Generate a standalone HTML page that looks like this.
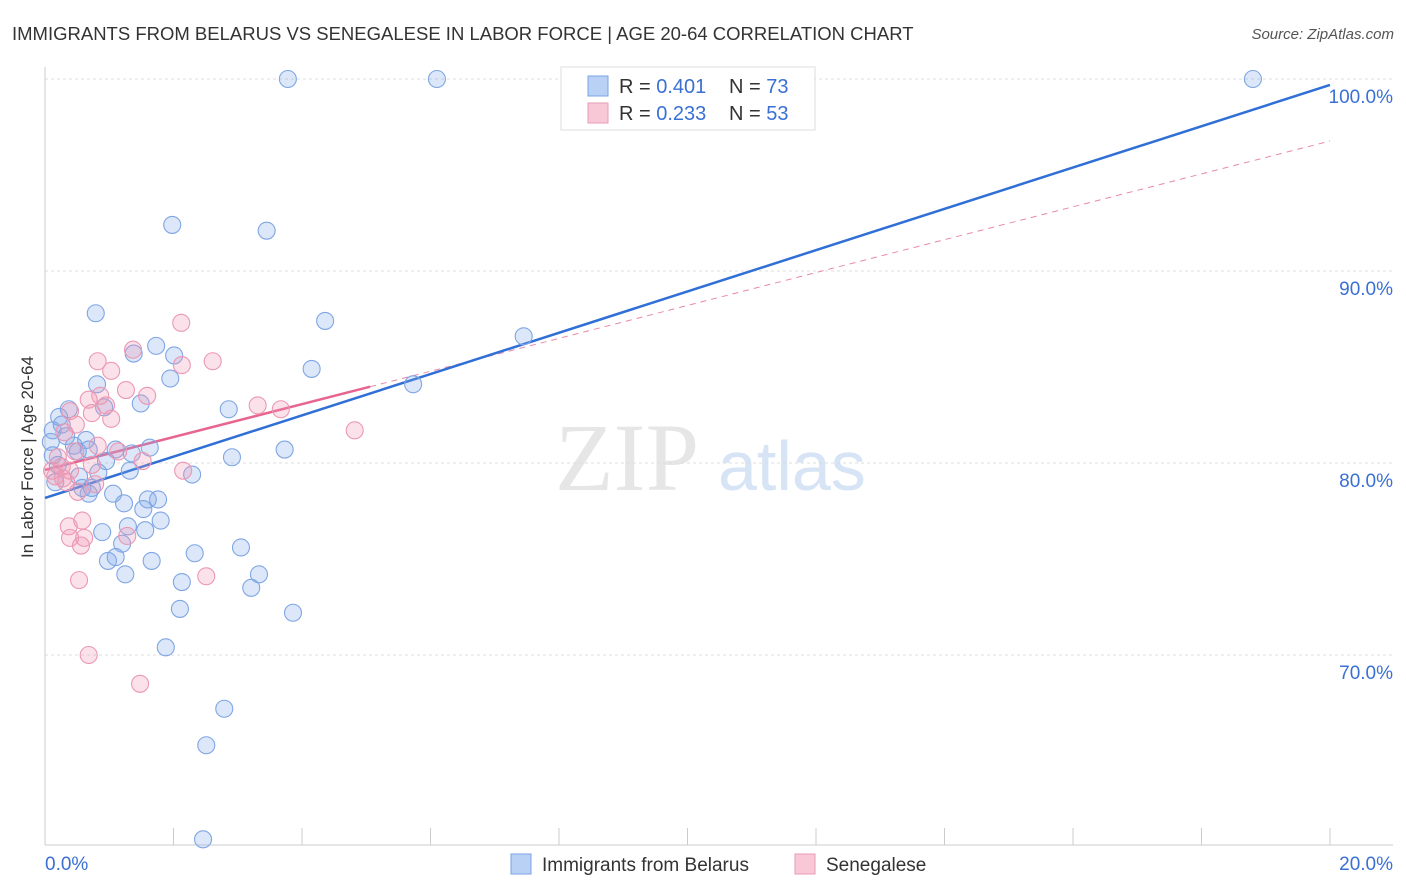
<!DOCTYPE html>
<html><head><meta charset="utf-8"><style>
body{margin:0;background:#fff;font-family:"Liberation Sans",sans-serif;}
svg{display:block}
</style></head><body>
<svg id="chart" width="1406" height="892">
<text x="12" y="40" font-size="18.5" fill="#333">IMMIGRANTS FROM BELARUS VS SENEGALESE IN LABOR FORCE | AGE 20-64 CORRELATION CHART</text>
<text x="1394" y="39" font-size="15" fill="#555" font-style="italic" text-anchor="end">Source: ZipAtlas.com</text>
<text transform="translate(33,457) rotate(-90)" font-size="17" fill="#333" text-anchor="middle">In Labor Force | Age 20-64</text>
<g>
<text x="555" y="490" font-size="96" fill="#e6e6e6" font-family="Liberation Serif,serif">ZIP</text>
<text x="718" y="490" font-size="70" fill="#d7e4f5">atlas</text>
</g>
<g id="grid"></g><g id="axes"></g><g id="lines"></g><g id="points"></g>
<g>
<rect x="561" y="67" width="254" height="63" fill="#fff" stroke="#ddd"/>
<rect x="588" y="76" width="20" height="20" fill="#b9d1f4" stroke="#7aa3e6"/>
<rect x="588" y="103" width="20" height="20" fill="#f8c8d7" stroke="#e99bb5"/>
<text x="619" y="93" font-size="20" fill="#333">R = <tspan fill="#3a70d4">0.401</tspan></text>
<text x="729" y="93" font-size="20" fill="#333">N = <tspan fill="#3a70d4">73</tspan></text>
<text x="619" y="120" font-size="20" fill="#333">R = <tspan fill="#3a70d4">0.233</tspan></text>
<text x="729" y="120" font-size="20" fill="#333">N = <tspan fill="#3a70d4">53</tspan></text>
</g>
<g>
<rect x="511" y="854" width="20" height="20" fill="#b9d1f4" stroke="#7aa3e6"/>
<text x="542" y="871" font-size="19" fill="#333">Immigrants from Belarus</text>
<rect x="795" y="854" width="20" height="20" fill="#f8c8d7" stroke="#e99bb5"/>
<text x="826" y="871" font-size="19" fill="#333">Senegalese</text>
</g>
</svg>
<script>
const yTicks=[100,90,80,70];
const xTickLabels=["0.0%","20.0%"];
const blueX=[3.78,6.10,18.80,1.98,3.45,0.79,4.36,7.45,1.73,1.38,2.01,4.15,1.95,0.81,5.73,1.49,2.86,0.37,0.92,0.22,0.26,0.12,0.64,0.33,0.45,0.09,1.10,1.63,3.73,0.68,1.35,0.51,2.91,0.95,0.12,0.20,1.32,2.29,0.83,0.53,0.16,0.73,0.58,0.68,1.06,1.60,1.76,1.23,1.53,1.80,1.29,1.56,0.89,1.20,3.05,2.33,1.10,0.98,1.66,1.25,3.33,2.13,3.21,2.10,3.86,1.88,2.79,2.51,2.46];
const blueY=[100.0,100.0,100.0,92.4,92.1,87.8,87.4,86.6,86.1,85.7,85.6,84.9,84.4,84.1,84.1,83.1,82.8,82.8,82.9,82.4,82.0,81.7,81.2,81.4,80.9,81.1,80.7,80.8,80.7,80.7,80.5,80.6,80.3,80.1,80.4,79.9,79.6,79.4,79.5,79.3,79.0,78.7,78.7,78.4,78.4,78.1,78.1,77.9,77.6,77.0,76.7,76.5,76.4,75.8,75.6,75.3,75.1,74.9,74.9,74.2,74.2,73.8,73.5,72.4,72.2,70.4,67.2,65.3,60.4];
const pinkX=[2.12,1.37,0.82,2.61,2.13,1.03,1.26,1.59,0.86,0.68,3.31,3.67,0.95,0.39,0.73,1.03,0.48,0.30,4.82,0.82,0.47,1.14,0.20,1.52,0.26,0.39,0.11,0.73,2.15,0.16,0.28,0.33,0.51,0.78,0.58,0.37,1.28,0.39,0.61,0.56,2.51,0.53,0.68,1.48];
const pinkY=[87.3,85.9,85.3,85.3,85.1,84.8,83.8,83.5,83.5,83.3,83.0,82.8,83.0,82.7,82.6,82.3,82.0,81.6,81.7,80.9,80.6,80.6,80.3,80.1,79.8,79.6,79.6,79.9,79.6,79.3,79.2,79.0,78.5,78.9,77.0,76.7,76.2,76.1,76.1,75.7,74.1,73.9,70.0,68.5];
const blueTrend=[78.18,99.69];
const pinkTrend=[79.64,96.77];
const pinkSolidEnd=5.06;
const NS="http://www.w3.org/2000/svg";
const sx=v=>45+v/20*1285, sy=v=>463-(v-80)/10*192;
function mk(p,tag,a){const e=document.createElementNS(NS,tag);for(const k in a)e.setAttribute(k,a[k]);p.appendChild(e);return e;}
const grid=document.getElementById('grid'),axes=document.getElementById('axes'),lines=document.getElementById('lines'),pts=document.getElementById('points');
yTicks.forEach(t=>{
 const l=mk(grid,'line',{x1:45,x2:1393,y1:sy(t),y2:sy(t),stroke:'#ddd','stroke-dasharray':'3,3'});
 
 
 const tx=mk(grid,'text',{x:1393,y:sy(t)+24,'font-size':19,fill:'#3a70d4','text-anchor':'end'});
 tx.textContent=t.toFixed(1)+'%';
 
 
});
const ax=mk(axes,'line',{x1:45,x2:45,y1:67,y2:845,stroke:'#ccc'});


const bx=mk(axes,'line',{x1:45,x2:1393,y1:845,y2:845,stroke:'#ccc'});


for(let i=0;i<=10;i++){
 const t=mk(axes,'line',{x1:sx(i*2),x2:sx(i*2),y1:828,y2:845,stroke:'#ccc'});
 
 
}
[[0,'start'],[20,'end']].forEach((d,i)=>{
 const t=mk(axes,'text',{x:sx(d[0])+(i?63:0),y:870,'font-size':19,fill:'#3a70d4','text-anchor':d[1]});
 t.textContent=xTickLabels[i];
 
 
});
blueX.forEach((x,i)=>{
 const c=mk(pts,'circle',{cx:sx(x),cy:sy(blueY[i]),r:8.5,fill:'rgba(130,170,235,0.28)',stroke:'#7fa6e4','stroke-width':1.1});
 
 
});
pinkX.forEach((x,i)=>{
 const c=mk(pts,'circle',{cx:sx(x),cy:sy(pinkY[i]),r:8.5,fill:'rgba(240,150,180,0.28)',stroke:'#eb98b3','stroke-width':1.1});
 
 
});
const pAt=x=>pinkTrend[0]+(pinkTrend[1]-pinkTrend[0])*x/20;
const pd=mk(lines,'line',{x1:sx(pinkSolidEnd),y1:sy(pAt(pinkSolidEnd)),x2:sx(20),y2:sy(pinkTrend[1]),stroke:'#e88aa8','stroke-width':1,'stroke-dasharray':'6,5'});


const bl=mk(lines,'line',{x1:sx(0),y1:sy(blueTrend[0]),x2:sx(20),y2:sy(blueTrend[1]),stroke:'#2f6fd6','stroke-width':2.5});


const pl=mk(lines,'line',{x1:sx(0),y1:sy(pinkTrend[0]),x2:sx(pinkSolidEnd),y2:sy(pAt(pinkSolidEnd)),stroke:'#e8658f','stroke-width':2.5});


</script>
</body></html>
